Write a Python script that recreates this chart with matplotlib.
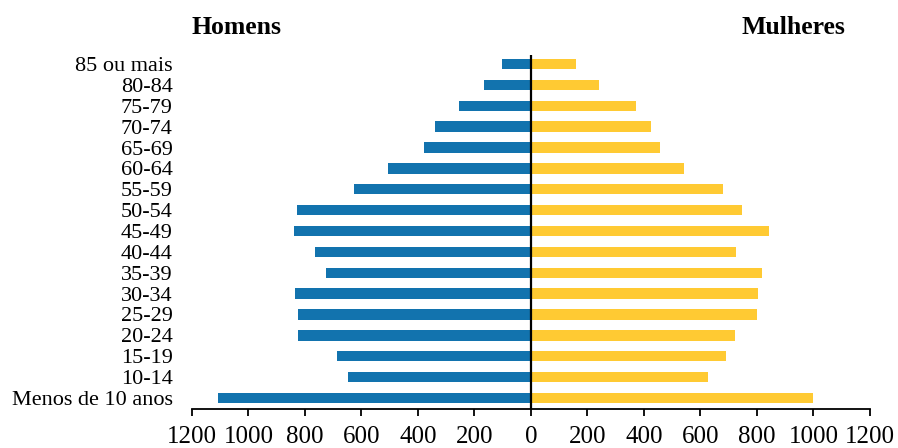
import matplotlib.pyplot as plt
from matplotlib.ticker import FuncFormatter

plt.rcParams['font.family'] = ['Liberation Serif', 'DejaVu Serif']

faixas = ['Menos de 10 anos', '10-14', '15-19', '20-24', '25-29', '30-34', '35-39',
          '40-44', '45-49', '50-54', '55-59', '60-64', '65-69', '70-74', '75-79',
          '80-84', '85 ou mais']
homens = [1108, 647, 685, 824, 824, 836, 725, 764, 839, 827, 628, 506, 380, 339, 254, 165, 101]
mulheres = [1000, 626, 689, 722, 801, 802, 816, 726, 842, 746, 680, 540, 457, 424, 372, 239, 161]

fig = plt.figure(figsize=(8.98, 4.48), dpi=100)
ax = fig.add_axes([0.2138, 0.087, 0.755, 0.791])

y = range(len(faixas))
ax.barh(y, [-h for h in homens], height=0.5, color='#1273ae')
ax.barh(y, mulheres, height=0.5, color='#ffca33')
ax.axvline(0, color='black', linewidth=1.6)

ax.set_xlim(-1200, 1200)
ax.set_ylim(-0.53, 16.45)
ax.set_xticks(range(-1200, 1201, 200))
ax.xaxis.set_major_formatter(FuncFormatter(lambda v, p: f'{abs(int(v))}'))
ax.set_yticks(list(y))
ax.set_yticklabels(faixas)

for s in ['top', 'right', 'left']:
    ax.spines[s].set_visible(False)
ax.spines['bottom'].set_linewidth(1.3)
ax.tick_params(axis='y', length=0, pad=14, labelsize=16)
ax.tick_params(axis='x', direction='out', length=5, width=1.3, pad=7, labelsize=18)

fig.text(236 / 898, 1 - 27 / 448, 'Homens', ha='center', va='center',
         fontsize=18.5, fontweight='bold')
fig.text(793 / 898, 1 - 27 / 448, 'Mulheres', ha='center', va='center',
         fontsize=18.5, fontweight='bold')

fig.savefig('out.png', dpi=100)
